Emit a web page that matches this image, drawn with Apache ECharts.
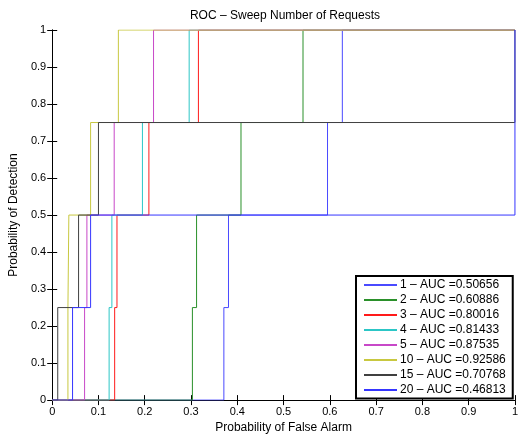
<!DOCTYPE html>
<html>
<head>
<meta charset="utf-8">
<script src="https://cdn.jsdelivr.net/npm/echarts@6/dist/echarts.min.js"></script>
<style>html,body{margin:0;padding:0;background:#fff;}#c{width:521px;height:439px;}</style>
</head>
<body>
<div id="c"></div>
<script>
// Detection levels reached at each step
const levels = [0.25, 0.5, 0.75, 1];
// False-alarm probability at which each curve rises to the next level
const names = ['1 \u2013 AUC =0.50656', '2 \u2013 AUC =0.60886', '3 \u2013 AUC =0.80016', '4 \u2013 AUC =0.81433',
               '5 \u2013 AUC =0.87535', '10 \u2013 AUC =0.92586', '15 \u2013 AUC =0.70768', '20 \u2013 AUC =0.46813'];
const rise1  = [0.371, 0.381, 0.595, 0.627];
const rise2  = [0.303, 0.312, 0.408, 0.542];
const rise3  = [0.135, 0.140, 0.209, 0.316];
const rise4  = [0.123, 0.129, 0.195, 0.296];
const rise5  = [0.070, 0.075, 0.134, 0.219];
const rise10 = [0.034, 0.036, 0.083, 0.143];
const rise15 = [0.012, 0.057, 0.100, 1.0];
const rise20 = [0.044, 0.083, 1.0, 1.0];
const xTicks = [0, 0.1, 0.2, 0.3, 0.4, 0.5, 0.6, 0.7, 0.8, 0.9, 1];
const yTicks = [0, 0.1, 0.2, 0.3, 0.4, 0.5, 0.6, 0.7, 0.8, 0.9, 1];

const rises = [rise1, rise2, rise3, rise4, rise5, rise10, rise15, rise20];
const colors = ['#4a4aff', '#2a902a', '#ff1a1a', '#2cc6c6', '#c848c8', '#c8c840', '#404040', '#3535ff'];

function curve(r) {
  const pts = [[0, 0]];
  r.forEach((x, i) => pts.push([x, levels[i]]));
  pts.push([1, 1]);
  return pts;
}

const font = 'Liberation Sans, Arial, Helvetica, sans-serif';
const chart = echarts.init(document.getElementById('c'), null, {renderer: 'canvas'});
const axisCommon = {
  type: 'value', min: 0, max: 1, interval: 0.1,
  axisLine: {show: true, lineStyle: {color: '#000', width: 1}},
  axisTick: {show: true, inside: true, length: 5, lineStyle: {color: '#000'}},
  splitLine: {show: false}
};
chart.setOption({
  animation: false,
  backgroundColor: '#fff',
  title: {
    text: 'ROC \u2013 Sweep Number of Requests', left: 285, top: 10, padding: 0, textAlign: 'center',
    textStyle: {fontFamily: font, fontSize: 12, fontWeight: 'normal', color: '#000'}
  },
  grid: {left: 52, right: 3, top: 30, bottom: 35, containLabel: false},
  xAxis: [
    Object.assign({}, axisCommon, {
      position: 'bottom',
      name: 'Probability of False Alarm', nameLocation: 'middle', nameGap: 18,
      nameTextStyle: {fontFamily: font, fontSize: 12, color: '#000'},
      axisLabel: {fontFamily: font, fontSize: 11, color: '#000', margin: 6,
        formatter: v => { const t = xTicks.find(k => Math.abs(k - v) < 1e-9); return t === undefined ? '' : String(t); }}
    }),
    Object.assign({}, axisCommon, {position: 'top', axisLabel: {show: false}})
  ],
  yAxis: [
    Object.assign({}, axisCommon, {
      position: 'left',
      name: 'Probability of Detection', nameLocation: 'middle', nameGap: 27,
      nameTextStyle: {fontFamily: font, fontSize: 12, color: '#000'},
      axisLabel: {fontFamily: font, fontSize: 11, color: '#000', margin: 6,
        formatter: v => { const t = yTicks.find(k => Math.abs(k - v) < 1e-9); return t === undefined ? '' : String(t); }}
    }),
    Object.assign({}, axisCommon, {position: 'right', axisLabel: {show: false}})
  ],
  legend: {
    orient: 'vertical', left: 356, top: 276,
    data: names,
    itemWidth: 33, itemHeight: 10, itemGap: 0,
    padding: [1.5, 7, 1, 7],
    borderColor: '#000', borderWidth: 2, backgroundColor: '#fff',
    itemStyle: {opacity: 0, color: 'transparent', borderColor: 'transparent', borderWidth: 0},
    textStyle: {fontFamily: font, fontSize: 12, color: '#000', lineHeight: 15, padding: [0, 0, 0, -2]}
  },
  series: rises.map((r, i) => ({
    name: names[i], type: 'line', step: 'end', symbol: 'none',
    data: curve(r), xAxisIndex: 0, yAxisIndex: 0,
    lineStyle: {color: colors[i], width: 1}, itemStyle: {color: colors[i]},
    clip: true
  }))
});
</script>
</body>
</html>
